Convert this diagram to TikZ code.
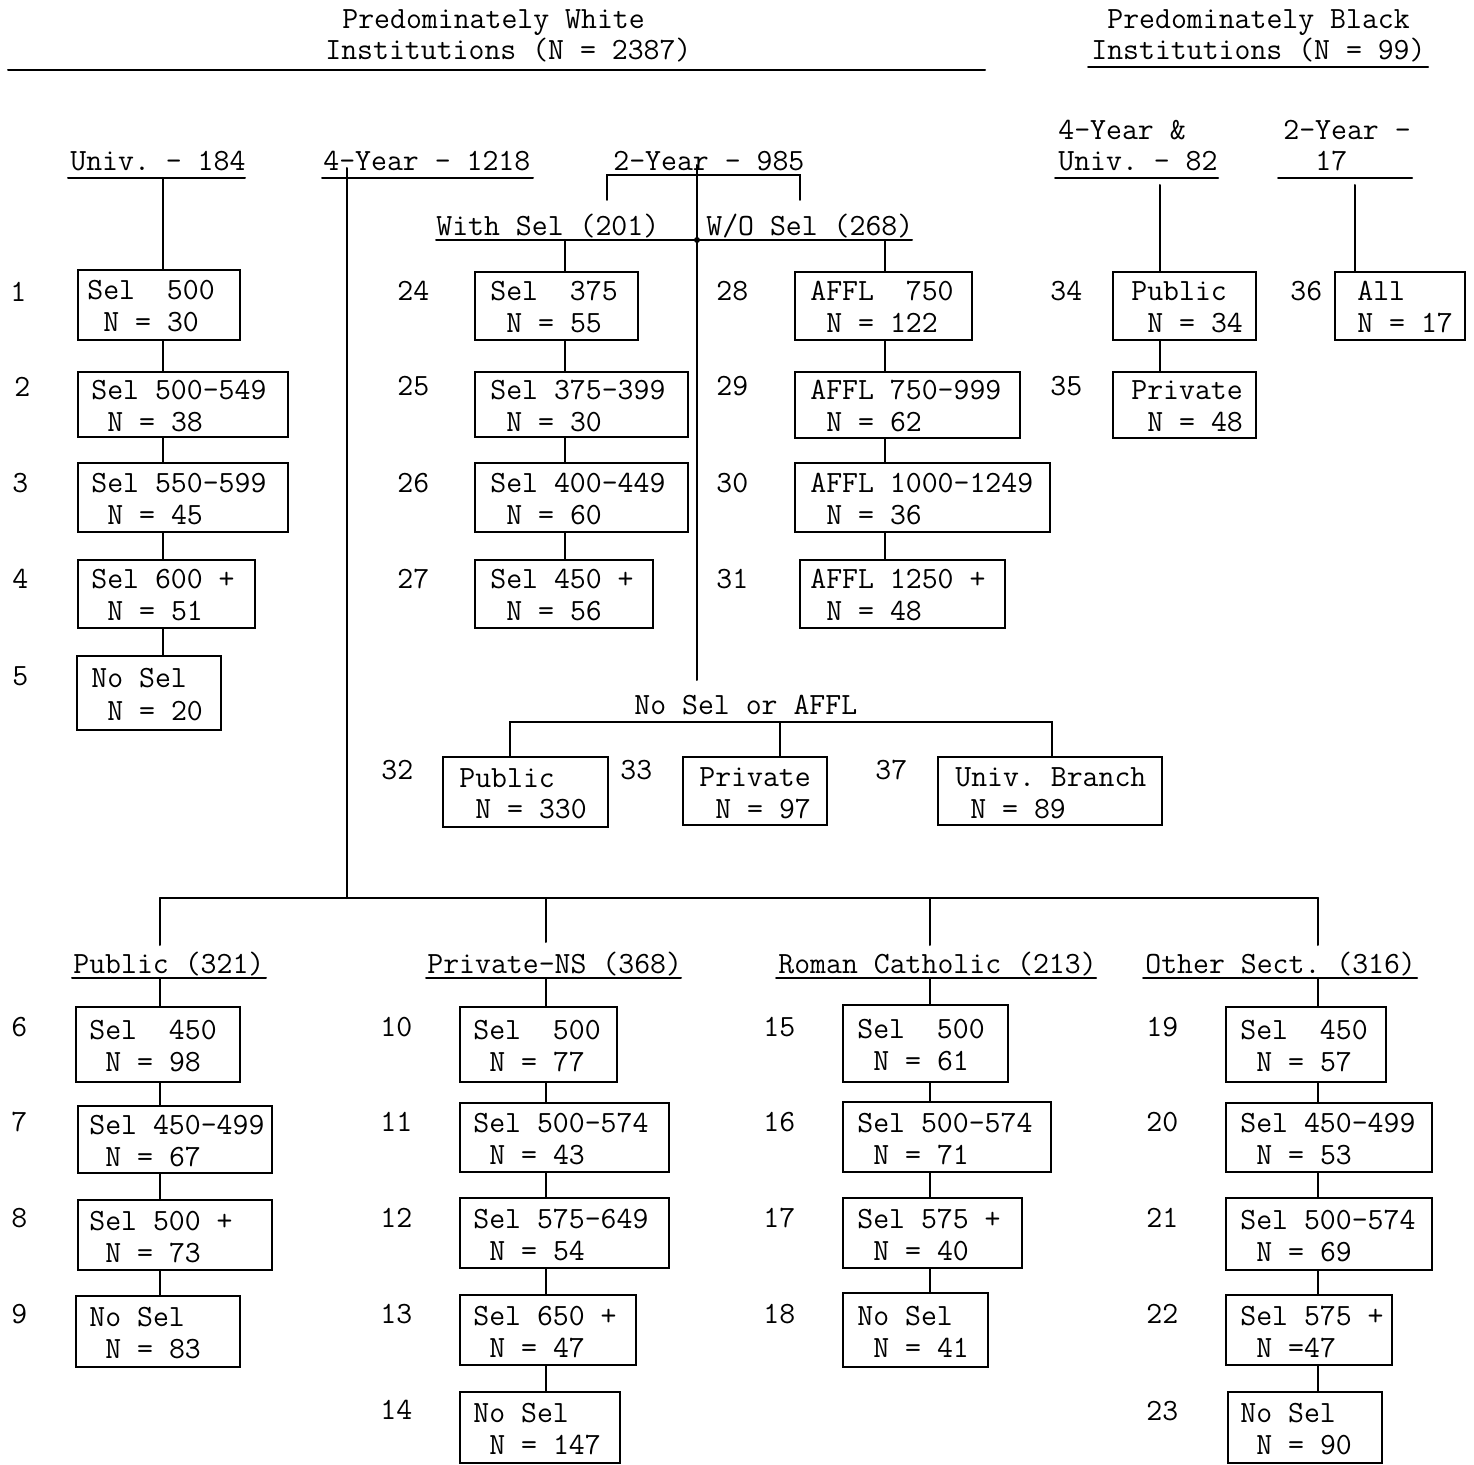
\documentclass[tikz,border=0pt]{standalone}
\usepackage{fontspec}
\frenchspacing
\tikzset{
  ln/.style={line width=1pt, line cap=round},
  bx/.style={draw, line width=1pt, rectangle, inner sep=0pt},
  tl/.style={anchor=base west, inner sep=0pt, font=\ttfamily\fontsize{15.45}{16}\selectfont\addfontfeatures{FakeBold=0.4}},
  num/.style={anchor=base west, inner sep=0pt, font=\ttfamily\fontsize{15.45}{16}\selectfont\addfontfeatures{FakeBold=0.4}}
}
% name, left, top, right, bottom, x line1, x line2, line1, line2
\newcommand\ibox[9]{%
  \node[bx, minimum width={(#4-#2)*0.5pt}, minimum height={(#5-#3)*0.5pt}] (#1) at ({(#2+#4)/2},{(#3+#5)/2}) {};
  \node[tl] (#1a) at (#6,{(#3+#5)/2-5}) {#8};
  \node[tl] (#1b) at (#7,{(#3+#5)/2+27}) {#9};
}
\begin{document}
\begin{tikzpicture}[x=0.5pt,y=-0.5pt]
\useasboundingbox (0,0) rectangle (1474,1465);

% ---------- top headers ----------
\node[tl] (hw1) at (342,29) {Predominately White};
\node[tl] (hw2) at (325,60) {Institutions (N = 2387)};
\draw[ln] (8,70) -- (985,70);
\node[tl] (hb1) at (1107,29) {Predominately Black};
\node[tl] (hb2) at (1091,60) {Institutions (N = 99)};
\draw[ln] (1088,67) -- (1428,67);

% ---------- level headers ----------
\node[tl] (hUniv) at (70,171) {Univ. - 184};
\draw[ln] (68,178) -- (245,178);
\node[tl] (h4yr) at (323,171) {4-Year - 1218};
\draw[ln] (322,178) -- (533,178);
\node[tl] (h2yr) at (613,171) {2-Year - 985};
\node[tl] (hB4a) at (1058,140) {4-Year \&};
\node[tl] (hB4b) at (1058,171) {Univ. - 82};
\draw[ln] (1055,178) -- (1218,178);
\node[tl] (hB2a) at (1283,140) {2-Year -};
\node[tl] (hB2b) at (1315,171) {17};
\draw[ln] (1278,178) -- (1412,178);

\node[tl] (hWith) at (436,236) {With Sel (201)};
\node[tl] (hWO) at (706,236) {W/O Sel (268)};
\draw[ln] (436,240) -- (912,240);

\node[tl] (hNo) at (634,715) {No Sel or AFFL};

\node[tl] (hPub) at (73,973) {Public (321)};
\draw[ln] (72,978) -- (266,978);
\node[tl] (hPriv) at (427,973) {Private-NS (368)};
\draw[ln] (426,978) -- (681,978);
\node[tl] (hRC) at (778,973) {Roman Catholic (213)};
\draw[ln] (776,978) -- (1096,978);
\node[tl] (hOS) at (1145,973) {Other Sect. (316)};
\draw[ln] (1143,978) -- (1417,978);

% ---------- boxes ----------
\ibox{b1}{78}{270}{240}{340}{87}{103}{Sel~~500}{N = 30}
\ibox{b2}{78}{372}{288}{437}{91}{107}{Sel 500-549}{N = 38}
\ibox{b3}{78}{463}{288}{532}{91}{107}{Sel 550-599}{N = 45}
\ibox{b4}{78}{560}{255}{628}{91}{107}{Sel 600 +}{N = 51}
\ibox{b5}{77}{656}{221}{730}{91}{107}{No Sel}{N = 20}

\ibox{b24}{475}{272}{638}{340}{490}{506}{Sel~~375}{N = 55}
\ibox{b25}{475}{372}{688}{437}{490}{506}{Sel 375-399}{N = 30}
\ibox{b26}{475}{463}{688}{532}{490}{506}{Sel 400-449}{N = 60}
\ibox{b27}{475}{560}{653}{628}{490}{506}{Sel 450 +}{N = 56}

\ibox{b28}{795}{272}{972}{340}{810}{826}{AFFL~~750}{N = 122}
\ibox{b29}{795}{372}{1020}{438}{810}{826}{AFFL 750-999}{N = 62}
\ibox{b30}{795}{463}{1050}{532}{810}{826}{AFFL 1000-1249}{N = 36}
\ibox{b31}{800}{560}{1005}{628}{810}{826}{AFFL 1250 +}{N = 48}

\ibox{b32}{443}{757}{608}{827}{459}{475}{Public}{N = 330}
\ibox{b33}{683}{757}{827}{825}{699}{715}{Private}{N = 97}
\ibox{b37}{938}{757}{1162}{825}{955}{970}{Univ. Branch}{N = 89}

\ibox{b34}{1113}{272}{1256}{340}{1131}{1147}{Public}{N = 34}
\ibox{b35}{1113}{372}{1256}{438}{1131}{1147}{Private}{N = 48}
\ibox{b36}{1335}{272}{1465}{340}{1357}{1357}{All}{N = 17}

\ibox{b6}{76}{1007}{240}{1082}{89}{105}{Sel~~450}{N = 98}
\ibox{b7}{78}{1106}{272}{1173}{89}{105}{Sel 450-499}{N = 67}
\ibox{b8}{78}{1200}{272}{1270}{89}{105}{Sel 500 +}{N = 73}
\ibox{b9}{76}{1296}{240}{1367}{89}{105}{No Sel}{N = 83}

\ibox{b10}{460}{1007}{617}{1082}{473}{489}{Sel~~500}{N = 77}
\ibox{b11}{460}{1103}{669}{1172}{473}{489}{Sel 500-574}{N = 43}
\ibox{b12}{460}{1198}{669}{1268}{473}{489}{Sel 575-649}{N = 54}
\ibox{b13}{460}{1295}{636}{1365}{473}{489}{Sel 650 +}{N = 47}
\ibox{b14}{460}{1392}{620}{1463}{473}{489}{No Sel}{N = 147}

\ibox{b15}{843}{1005}{1008}{1082}{857}{873}{Sel~~500}{N = 61}
\ibox{b16}{843}{1102}{1051}{1172}{857}{873}{Sel 500-574}{N = 71}
\ibox{b17}{843}{1198}{1022}{1268}{857}{873}{Sel 575 +}{N = 40}
\ibox{b18}{843}{1293}{988}{1367}{857}{873}{No Sel}{N = 41}

\ibox{b19}{1226}{1007}{1386}{1082}{1240}{1256}{Sel~~450}{N = 57}
\ibox{b20}{1226}{1103}{1432}{1172}{1240}{1256}{Sel 450-499}{N = 53}
\ibox{b21}{1226}{1198}{1432}{1270}{1240}{1256}{Sel 500-574}{N = 69}
\ibox{b22}{1226}{1295}{1392}{1365}{1240}{1256}{Sel 575 +}{N =47}
\ibox{b23}{1228}{1392}{1382}{1463}{1240}{1256}{No Sel}{N = 90}

% ---------- numbers ----------
\node[num] (n1) at (10,302) {1};
\node[num] (n2) at (14,397) {2};
\node[num] (n3) at (12,493) {3};
\node[num] (n4) at (12,589) {4};
\node[num] (n5) at (12,686) {5};
\node[num] (n24) at (397,301) {24};
\node[num] (n25) at (397,396) {25};
\node[num] (n26) at (397,493) {26};
\node[num] (n27) at (397,589) {27};
\node[num] (n28) at (716,301) {28};
\node[num] (n29) at (716,396) {29};
\node[num] (n30) at (716,493) {30};
\node[num] (n31) at (716,589) {31};
\node[num] (n32) at (381,779) {32};
\node[num] (n33) at (620,779) {33};
\node[num] (n37) at (875,779) {37};
\node[num] (n34) at (1050,301) {34};
\node[num] (n35) at (1050,396) {35};
\node[num] (n36) at (1290,301) {36};
\node[num] (n6) at (11,1036) {6};
\node[num] (n7) at (11,1131) {7};
\node[num] (n8) at (11,1227) {8};
\node[num] (n9) at (11,1323) {9};
\node[num] (n10) at (380,1036) {10};
\node[num] (n11) at (380,1131) {11};
\node[num] (n12) at (380,1227) {12};
\node[num] (n13) at (380,1323) {13};
\node[num] (n14) at (380,1419) {14};
\node[num] (n15) at (763,1036) {15};
\node[num] (n16) at (763,1131) {16};
\node[num] (n17) at (763,1227) {17};
\node[num] (n18) at (763,1323) {18};
\node[num] (n19) at (1146,1036) {19};
\node[num] (n20) at (1146,1131) {20};
\node[num] (n21) at (1146,1227) {21};
\node[num] (n22) at (1146,1323) {22};
\node[num] (n23) at (1146,1420) {23};

% ---------- connectors ----------
% Univ column
\coordinate (cU) at (163,178);
\draw[ln] (cU) -- (cU |- b1.north);
\draw[ln] (cU |- b1.south) -- (cU |- b2.north);
\draw[ln] (cU |- b2.south) -- (cU |- b3.north);
\draw[ln] (cU |- b3.south) -- (cU |- b4.north);
\draw[ln] (cU |- b4.south) -- (cU |- b5.north);

% 4-Year trunk and bottom bar
\coordinate (c4) at (347,168);
\coordinate (bar) at (347,898);
\draw[ln] (c4) -- (bar);
\coordinate (barL) at (160,898);
\coordinate (barR) at (1318,898);
\draw[ln] (barL) -- (barR);
\draw[ln] (barL) -- (160,945);
\draw[ln] (546,898) -- (546,942);
\draw[ln] (930,898) -- (930,945);
\draw[ln] (barR) -- (1318,945);

% bottom columns
\coordinate (cP) at (160,978);
\draw[ln] (cP) -- (cP |- b6.north);
\draw[ln] (cP |- b6.south) -- (cP |- b7.north);
\draw[ln] (cP |- b7.south) -- (cP |- b8.north);
\draw[ln] (cP |- b8.south) -- (cP |- b9.north);
\coordinate (cN) at (546,978);
\draw[ln] (cN) -- (cN |- b10.north);
\draw[ln] (cN |- b10.south) -- (cN |- b11.north);
\draw[ln] (cN |- b11.south) -- (cN |- b12.north);
\draw[ln] (cN |- b12.south) -- (cN |- b13.north);
\draw[ln] (cN |- b13.south) -- (cN |- b14.north);
\coordinate (cR) at (930,978);
\draw[ln] (cR) -- (cR |- b15.north);
\draw[ln] (cR |- b15.south) -- (cR |- b16.north);
\draw[ln] (cR |- b16.south) -- (cR |- b17.north);
\draw[ln] (cR |- b17.south) -- (cR |- b18.north);
\coordinate (cO) at (1318,978);
\draw[ln] (cO) -- (cO |- b19.north);
\draw[ln] (cO |- b19.south) -- (cO |- b20.north);
\draw[ln] (cO |- b20.south) -- (cO |- b21.north);
\draw[ln] (cO |- b21.south) -- (cO |- b22.north);
\draw[ln] (cO |- b22.south) -- (cO |- b23.north);

% 2-Year bracket and trunk
\draw[ln] (607,200) -- (607,175) -- (800,175) -- (800,200);
\coordinate (c2) at (697,165);
\coordinate (c2end) at (697,680);
\draw[ln] (c2) -- (c2end);
\fill (697,240) circle (3);

% With Sel column
\coordinate (cW) at (565,240);
\draw[ln] (cW) -- (cW |- b24.north);
\draw[ln] (cW |- b24.south) -- (cW |- b25.north);
\draw[ln] (cW |- b25.south) -- (cW |- b26.north);
\draw[ln] (cW |- b26.south) -- (cW |- b27.north);
% W/O Sel column
\coordinate (cA) at (885,240);
\draw[ln] (cA) -- (cA |- b28.north);
\draw[ln] (cA |- b28.south) -- (cA |- b29.north);
\draw[ln] (cA |- b29.south) -- (cA |- b30.north);
\draw[ln] (cA |- b30.south) -- (cA |- b31.north);

% No Sel or AFFL
\coordinate (nL) at (510,722);
\coordinate (nM) at (780,722);
\coordinate (nR) at (1052,722);
\draw[ln] (nL |- b32.north) -- (nL) -- (nR) -- (nR |- b37.north);
\draw[ln] (nM) -- (nM |- b33.north);

% Black institutions
\coordinate (cB4) at (1160,185);
\draw[ln] (cB4) -- (cB4 |- b34.north);
\draw[ln] (cB4 |- b34.south) -- (cB4 |- b35.north);
\coordinate (cB2) at (1355,185);
\draw[ln] (cB2) -- (cB2 |- b36.north);
\end{tikzpicture}
\end{document}
